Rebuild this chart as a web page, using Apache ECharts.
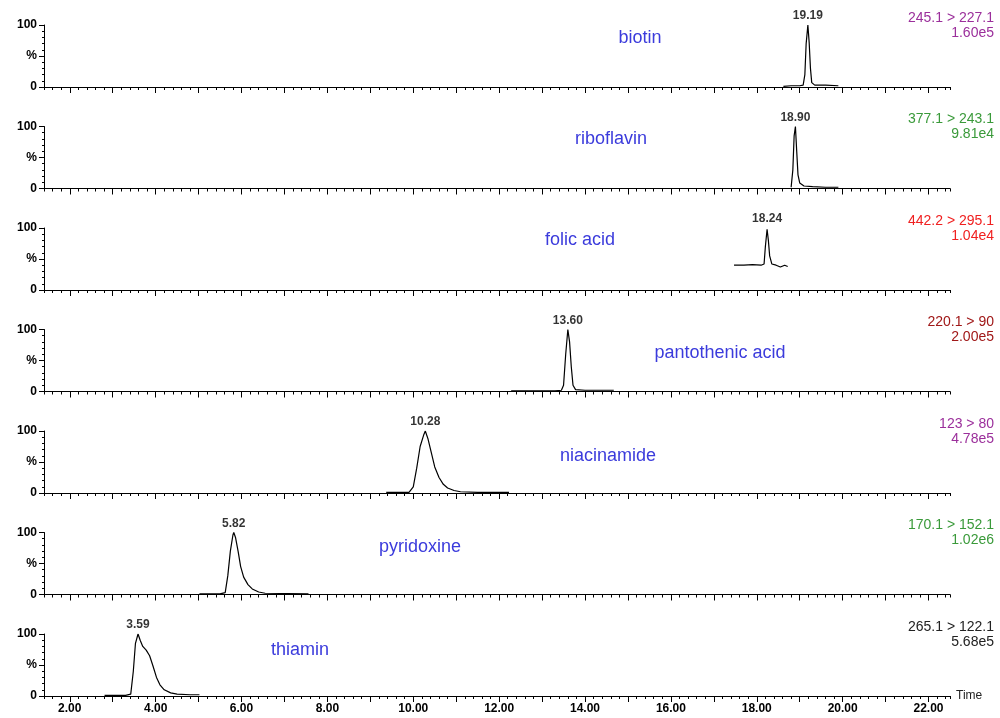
<!DOCTYPE html>
<html>
<head>
<meta charset="utf-8">
<script src="https://cdn.jsdelivr.net/npm/echarts@6/dist/echarts.min.js"></script>
<style>
html, body { margin: 0; background: #fff; }
#chart { width: 1000px; height: 718px; }
</style>
</head>
<body>
<div id="chart"></div>
<script>
// compounds, top panel first
var compounds = ['biotin', 'riboflavin', 'folic acid', 'pantothenic acid', 'niacinamide', 'pyridoxine', 'thiamin'];
var transitions = ['245.1 > 227.1', '377.1 > 243.1', '442.2 > 295.1', '220.1 > 90', '123 > 80', '170.1 > 152.1', '265.1 > 122.1'];
var intensities = ['1.60e5', '9.81e4', '1.04e4', '2.00e5', '4.78e5', '1.02e6', '5.68e5'];
var peakTimes = [19.19, 18.90, 18.24, 13.60, 10.28, 5.82, 3.59];

// x axis ticks (minutes)
var majorTicks = [2, 3, 4, 5, 6, 7, 8, 9, 10, 11, 12, 13, 14, 15, 16, 17, 18, 19, 20, 21, 22];
var tickLabels = [2, 4, 6, 8, 10, 12, 14, 16, 18, 20, 22];

// traces: [time, %]
var traceBiotin = [[18.62, 1], [18.8, 2], [19.0, 2], [19.08, 3], [19.12, 20], [19.15, 70], [19.19, 100], [19.22, 72], [19.25, 30], [19.28, 7], [19.35, 3], [19.6, 3], [19.9, 2]];
var traceRiboflavin = [[18.8, 2], [18.84, 30], [18.87, 85], [18.9, 100], [18.93, 60], [18.96, 22], [19.0, 9], [19.1, 4], [19.3, 3], [19.6, 2], [19.9, 2]];
var traceFolic = [[17.47, 40], [17.7, 40], [17.9, 41], [18.1, 40], [18.17, 42], [18.2, 70], [18.24, 98], [18.27, 80], [18.3, 55], [18.35, 42], [18.45, 40], [18.55, 37], [18.65, 40], [18.72, 38]];
var tracePantothenic = [[12.28, 1], [12.8, 1], [13.3, 1], [13.45, 2], [13.5, 10], [13.55, 60], [13.6, 100], [13.64, 80], [13.68, 40], [13.72, 10], [13.78, 3], [14.0, 2], [14.67, 2]];
var traceNiacinamide = [[9.37, 1], [9.9, 1], [10.0, 10], [10.08, 40], [10.16, 75], [10.24, 93], [10.28, 100], [10.34, 88], [10.42, 65], [10.5, 42], [10.6, 25], [10.7, 14], [10.8, 8], [10.95, 4], [11.1, 2], [11.5, 1], [12.23, 1]];
var tracePyridoxine = [[5.02, 1], [5.5, 1], [5.62, 3], [5.68, 30], [5.74, 70], [5.8, 96], [5.82, 100], [5.86, 92], [5.92, 70], [5.98, 45], [6.05, 28], [6.15, 16], [6.25, 9], [6.4, 4], [6.55, 2], [7.56, 1]];
var traceThiamin = [[2.81, 1], [3.3, 1], [3.42, 3], [3.48, 40], [3.53, 85], [3.59, 100], [3.64, 90], [3.7, 80], [3.78, 74], [3.86, 65], [3.94, 48], [4.02, 30], [4.1, 18], [4.2, 10], [4.35, 5], [4.5, 3], [4.8, 2], [5.02, 2]];

var traces = [traceBiotin, traceRiboflavin, traceFolic, tracePantothenic, traceNiacinamide, tracePyridoxine, traceThiamin];

// layout / style
var labelColors = ['#9b2f9b', '#3a9a3a', '#f02020', '#a01818', '#9b2f9b', '#3a9a3a', '#222222'];
var namePos = [[640, 13], [611, 12.5], [580, 12], [720, 24], [608, 25], [420, 14.5], [300, 16]];
var panelTop = 25, panelStep = 101.5, panelH = 62;
var xMin = 1.4, xMax = 22.5;

var dom = echarts.init(document.getElementById('chart'));

var grid = [], xAxis = [], yAxis = [], series = [], graphic = [];

for (let i = 0; i < compounds.length; i++) {
    let py = panelTop + i * panelStep;
    let last = i == compounds.length - 1;
    grid.push({ left: 44, right: 50, top: py, height: panelH });

    // short ticks every 0.2
    xAxis.push({
        type: 'value', gridIndex: i, min: xMin, max: xMax, interval: 0.2,
        position: 'bottom',
        name: last ? 'Time' : '',
        nameLocation: 'end', nameGap: 6,
        nameTextStyle: { color: '#222', fontSize: 12, fontFamily: 'Liberation Sans' },
        axisLine: { show: true, onZero: false, lineStyle: { color: '#000', width: 1 } },
        axisTick: { show: true, length: 3, lineStyle: { color: '#000' } },
        axisLabel: { show: false },
        splitLine: { show: false }
    });
    // long ticks every minute + labels
    xAxis.push({
        type: 'value', gridIndex: i, min: xMin, max: xMax,
        position: 'bottom',
        axisLine: { show: false, onZero: false },
        axisTick: { show: true, length: 6, customValues: majorTicks, lineStyle: { color: '#000' } },
        axisLabel: {
            show: last, customValues: tickLabels, margin: 7,
            color: '#000', fontSize: 12, fontWeight: 'bold', fontFamily: 'Liberation Sans',
            formatter: function (v) { return v.toFixed(2); }
        },
        splitLine: { show: false }
    });

    yAxis.push({
        type: 'value', gridIndex: i, min: 0, max: 100, interval: 50,
        axisLine: { show: true, lineStyle: { color: '#000', width: 1 } },
        axisTick: { show: true, length: 5, lineStyle: { color: '#000' } },
        minorTick: { show: true, splitNumber: 5, length: 2, lineStyle: { color: '#000' } },
        axisLabel: {
            margin: 7, color: '#000', fontSize: 12, fontWeight: 'bold', fontFamily: 'Liberation Sans',
            formatter: function (v) { return v == 50 ? '%' : String(v); }
        },
        splitLine: { show: false }
    });

    series.push({
        type: 'line', xAxisIndex: i * 2, yAxisIndex: i,
        data: traces[i], symbol: 'none', silent: true,
        lineStyle: { color: '#000', width: 1.2 }
    });
    series.push({
        type: 'scatter', xAxisIndex: i * 2, yAxisIndex: i,
        data: [[peakTimes[i], 100]], symbolSize: 0, silent: true,
        label: {
            show: true, position: 'top', distance: 3,
            color: '#000', fontSize: 12, fontWeight: 'bold', fontFamily: 'Liberation Sans',
            formatter: function (p) { return p.value[0].toFixed(2); }
        }
    });

    graphic.push({
        type: 'text', x: namePos[i][0], y: py + namePos[i][1],
        style: {
            text: compounds[i], fill: '#3b3bdc', font: '18px "Liberation Sans"',
            textAlign: 'center', textVerticalAlign: 'middle'
        }
    });
    graphic.push({
        type: 'text', x: 994, y: py - 7,
        style: {
            text: transitions[i], fill: labelColors[i], font: '14px "Liberation Sans"',
            textAlign: 'right', textVerticalAlign: 'middle'
        }
    });
    graphic.push({
        type: 'text', x: 994, y: py + 8,
        style: {
            text: intensities[i], fill: labelColors[i], font: '14px "Liberation Sans"',
            textAlign: 'right', textVerticalAlign: 'middle'
        }
    });
}

var option = {
    backgroundColor: '#fff',
    animation: false,
    grid: grid,
    xAxis: xAxis,
    yAxis: yAxis,
    series: series,
    graphic: graphic
};
dom.setOption(option);
</script>
</body>
</html>
